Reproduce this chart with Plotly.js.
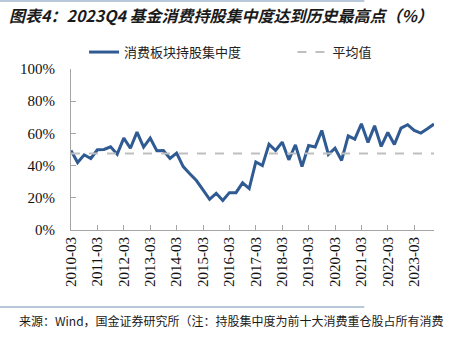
<!DOCTYPE html>
<html>
<head>
<meta charset="utf-8">
<script src="https://cdn.plot.ly/plotly-3.0.1.min.js"></script>
<style>html,body{margin:0;padding:0;background:#fff;}#chart{width:455px;height:337px;}</style>
</head>
<body>
<div id="chart"></div>
<script>
const quarters = [
 "2010-03","2010-06","2010-09","2010-12","2011-03","2011-06","2011-09","2011-12",
 "2012-03","2012-06","2012-09","2012-12","2013-03","2013-06","2013-09","2013-12",
 "2014-03","2014-06","2014-09","2014-12","2015-03","2015-06","2015-09","2015-12",
 "2016-03","2016-06","2016-09","2016-12","2017-03","2017-06","2017-09","2017-12",
 "2018-03","2018-06","2018-09","2018-12","2019-03","2019-06","2019-09","2019-12",
 "2020-03","2020-06","2020-09","2020-12","2021-03","2021-06","2021-09","2021-12",
 "2022-03","2022-06","2022-09","2022-12","2023-03","2023-06","2023-09","2023-12"
];
const concentration = [
 49.4,41.9,46.7,44.4,49.8,50.0,51.7,47.1,
 57.1,50.8,60.8,51.5,57.1,49.2,49.4,44.4,
 47.7,39.4,34.9,30.7,24.9,19.1,22.8,18.3,
 23.2,23.2,29.3,25.7,42.3,40.0,53.3,49.4,
 54.6,43.6,52.9,39.4,52.5,51.5,61.8,46.9,
 50.8,43.2,58.5,56.4,66.0,54.4,64.7,51.9,
 60.6,53.1,63.3,65.4,61.8,60.2,62.9,65.8
];
const averageValue = 47.5;
const averageLine = quarters.map(() => averageValue);
const tickLabels = ["2010-03","2011-03","2012-03","2013-03","2014-03","2015-03","2016-03",
 "2017-03","2018-03","2019-03","2020-03","2021-03","2022-03","2023-03"];
const yTickValues = [0, 20, 40, 60, 80, 100];
const yTickLabels = ["0%", "20%", "40%", "60%", "80%", "100%"];
const seriesNames = ["消费板块持股集中度","平均值"];
const titleText = "图表4：2023Q4 基金消费持股集中度达到历史最高点（%）";
const sourceText = "来源：Wind，国金证券研究所（注：持股集中度为前十大消费重仓股占所有消费";

const cjkFont = 'Noto Sans CJK SC';
const serifFont = 'Liberation Serif';

const traces = [
 {x: quarters, y: concentration, name: seriesNames[0], type: 'scatter', mode: 'lines',
  line: {color: '#2F5A92', width: 3}, legend: 'legend'},
 {x: quarters, y: averageLine, name: seriesNames[1], type: 'scatter', mode: 'lines',
  line: {color: '#BFBFBF', width: 2, dash: 'dash'}, legend: 'legend2'}
];

const legendFont = {family: cjkFont, size: 13, color: '#222'};
const layout = {
 width: 455, height: 337,
 margin: {l: 71, r: 21, t: 69, b: 107},
 paper_bgcolor: '#fff', plot_bgcolor: '#fff',
 showlegend: true,
 legend: {orientation: 'h', x: 0.036, y: 1.105, xanchor: 'left', yanchor: 'middle',
   font: legendFont, bgcolor: 'rgba(0,0,0,0)'},
 legend2: {orientation: 'h', x: 0.61, y: 1.105, xanchor: 'left', yanchor: 'middle',
   font: legendFont, bgcolor: 'rgba(0,0,0,0)'},
 xaxis: {type: 'category', range: [0, quarters.length - 1], tickmode: 'array',
   tickvals: tickLabels, ticktext: tickLabels, tickangle: -90,
   ticks: 'inside', ticklen: 5, tickcolor: '#A6A6A6',
   showline: true, linecolor: '#A6A6A6', linewidth: 1, showgrid: false, zeroline: false,
   tickfont: {family: serifFont, size: 15, color: '#111'}},
 yaxis: {range: [0, 100], tickmode: 'array', tickvals: yTickValues, ticktext: yTickLabels,
   ticks: 'inside', ticklen: 5, tickcolor: '#A6A6A6',
   showline: true, linecolor: '#A6A6A6', linewidth: 1, showgrid: false, zeroline: false,
   tickfont: {family: serifFont, size: 15, color: '#111'}, ticklabelstandoff: 12},
 annotations: [
  {text: titleText, xref: 'paper', yref: 'paper', x: -0.175, y: 1.335, xanchor: 'left', yanchor: 'middle',
   showarrow: false, font: {family: cjkFont, size: 16, color: '#1a1a1a', style: 'italic', weight: 'bold'}},
  {text: sourceText, xref: 'paper', yref: 'paper', x: -0.15, y: -0.56, xanchor: 'left', yanchor: 'middle',
   showarrow: false, font: {family: cjkFont, size: 12, color: '#1a1a1a'}}
 ],
 shapes: [
  {type: 'line', xref: 'paper', yref: 'paper', x0: -0.196, x1: 0.808, y0: 1.422, y1: 1.422,
   line: {color: '#9FB6CB', width: 1.5}},
  {type: 'line', xref: 'paper', yref: 'paper', x0: -0.196, x1: 0.808, y0: -0.478, y1: -0.478,
   line: {color: '#9FB6CB', width: 1.5}}
 ]
};

Plotly.newPlot('chart', traces, layout, {displayModeBar: false});
</script>
</body>
</html>
